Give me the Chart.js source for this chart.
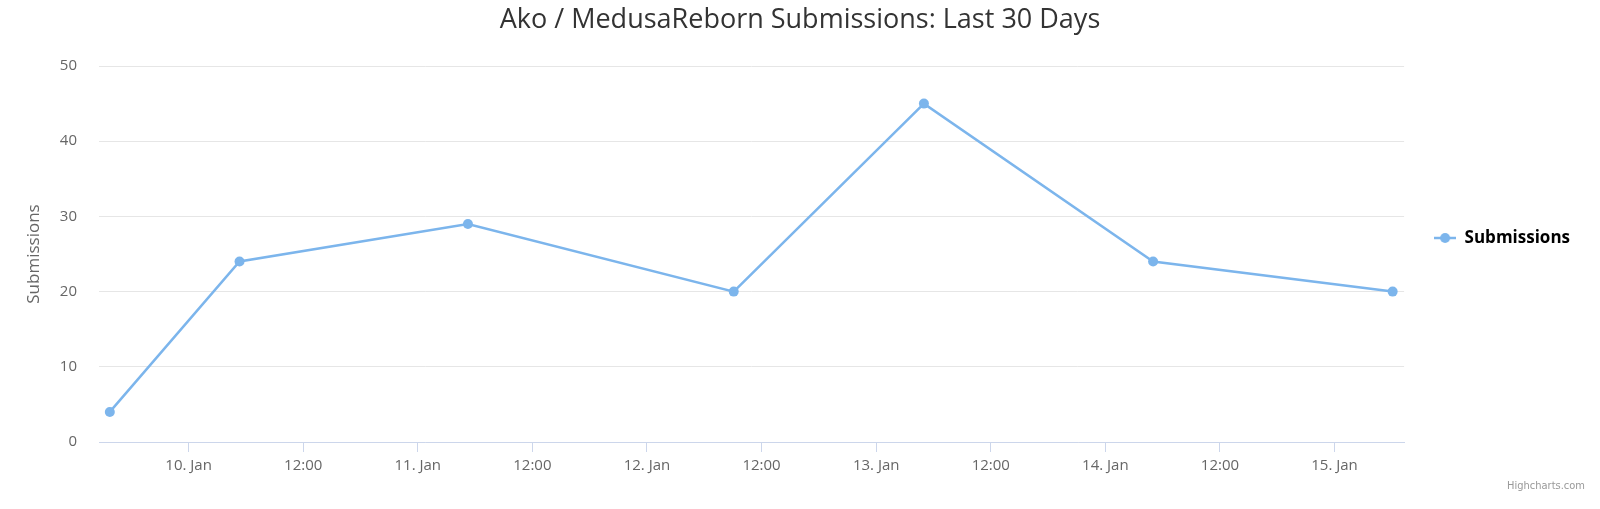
<!DOCTYPE html>
<html>
<head>
<meta charset="utf-8">
<script src="https://cdn.jsdelivr.net/npm/chart.js@4"></script>
<style>
  html, body { margin: 0; padding: 0; background: #ffffff; }
  #wrap { width: 1600px; height: 509px; }
</style>
</head>
<body>
<div id="wrap"><canvas id="subsChart"></canvas></div>
<script>
// -----------------------
// Data
// -----------------------
const TITLE = "Ako / MedusaReborn Submissions: Last 30 Days";
const SERIES_NAME = "Submissions";
const submitTimes = [
  "2020-01-09 15:45",
  "2020-01-10 05:20",
  "2020-01-11 05:15",
  "2020-01-12 09:05",
  "2020-01-13 05:00",
  "2020-01-14 05:00",
  "2020-01-15 06:05"
];
const submitCounts = [4, 24, 29, 20, 45, 24, 20];
const axisStart = "2020-01-09 14:37";
const axisEnd = "2020-01-15 07:17";
const monthNames = ["Jan", "Feb", "Mar", "Apr", "May", "Jun", "Jul", "Aug", "Sep", "Oct", "Nov", "Dec"];

const FONT = "'Open Sans', 'DejaVu Sans', sans-serif";
const NARROW_FONT = "'Liberation Sans Narrow', 'DejaVu Sans Condensed', 'Open Sans', sans-serif";
const LINE_COLOR = "#7cb5ec";

// "YYYY-MM-DD HH:mm" -> hours since epoch (UTC)
function toHours(str) {
  const [d, t] = str.split(" ");
  const [y, m, day] = d.split("-").map(Number);
  const [hh, mm] = t.split(":").map(Number);
  return Date.UTC(y, m - 1, day, hh, mm) / 3600000;
}

function tickLabel(value) {
  const dt = new Date(value * 3600000);
  if (dt.getUTCHours() === 0) return `${dt.getUTCDate()}. ${monthNames[dt.getUTCMonth()]}`;
  return `${dt.getUTCHours().toString().padStart(2, "0")}:${dt.getUTCMinutes().toString().padStart(2, "0")}`;
}

// legend symbol: line with a dot
const legendSymbol = document.createElement("canvas");
legendSymbol.width = 22;
legendSymbol.height = 12;
(() => {
  const c = legendSymbol.getContext("2d");
  c.strokeStyle = LINE_COLOR;
  c.lineWidth = 2.5;
  c.beginPath(); c.moveTo(0, 6); c.lineTo(22, 6); c.stroke();
  c.fillStyle = LINE_COLOR;
  c.beginPath(); c.arc(11, 6, 5, 0, Math.PI * 2); c.fill();
})();

// credits text bottom right
const creditsPlugin = {
  id: "credits",
  afterDraw(chart) {
    const ctx = chart.ctx;
    ctx.save();
    ctx.font = `11px ${NARROW_FONT}`;
    ctx.fillStyle = "#999999";
    ctx.textAlign = "right";
    ctx.textBaseline = "middle";
    ctx.fillText("Highcharts.com", 1585, 486);
    ctx.restore();
  }
};

// -----------------------
// Chart
// -----------------------
const ctx = document.getElementById("subsChart").getContext("2d");

new Chart(ctx, {
  type: "line",
  data: {
    datasets: [{
      label: SERIES_NAME,
      data: submitTimes.map((t, i) => ({ x: toHours(t), y: submitCounts[i] })),
      borderColor: LINE_COLOR,
      backgroundColor: LINE_COLOR,
      borderWidth: 2.5,
      tension: 0,
      fill: false,
      pointRadius: 5,
      pointHoverRadius: 5,
      pointBorderWidth: 0,
      pointBackgroundColor: LINE_COLOR
    }]
  },
  options: {
    responsive: true,
    maintainAspectRatio: false,
    animation: false,
    layout: { padding: { top: 0, right: 20, bottom: 33, left: 20 } },
    plugins: {
      title: {
        display: true,
        text: TITLE,
        color: "#333333",
        font: { family: FONT, size: 27, weight: "normal" },
        padding: { top: 4.3, bottom: 29.3 }
      },
      legend: {
        display: true,
        position: "right",
        fullSize: true,
        labels: {
          usePointStyle: true,
          pointStyleWidth: 22,
          padding: 30,
          color: "#333333",
          font: { family: FONT, size: 17, weight: "bold" },
          generateLabels: (chart) => [{
            text: SERIES_NAME,
            pointStyle: legendSymbol,
            fillStyle: LINE_COLOR,
            strokeStyle: LINE_COLOR,
            lineWidth: 0,
            hidden: false,
            datasetIndex: 0
          }]
        }
      },
      tooltip: { enabled: false }
    },
    scales: {
      x: {
        type: "linear",
        min: toHours(axisStart),
        max: toHours(axisEnd),
        afterFit: (s) => { s.height = 34; },
        grid: {
          drawOnChartArea: false,
          drawTicks: true,
          tickLength: 10,
          color: "#ccd6eb"
        },
        border: { display: true, color: "#ccd6eb", width: 1 },
        ticks: {
          stepSize: 12,
          includeBounds: false,
          autoSkip: false,
          maxRotation: 0,
          padding: 5,
          color: "#666666",
          font: { family: FONT, size: 15 },
          callback: (v) => tickLabel(v)
        }
      },
      y: {
        min: 0,
        max: 50,
        afterFit: (s) => { s.width = 79; },
        grid: { color: "#e6e6e6", drawTicks: false },
        border: { display: false },
        ticks: {
          stepSize: 10,
          padding: 22,
          color: "#666666",
          font: { family: FONT, size: 15 }
        },
        title: {
          display: true,
          text: SERIES_NAME,
          color: "#666666",
          font: { family: FONT, size: 17 },
          padding: { top: 4, bottom: 0 }
        }
      }
    }
  },
  plugins: [creditsPlugin]
});
</script>
</body>
</html>
